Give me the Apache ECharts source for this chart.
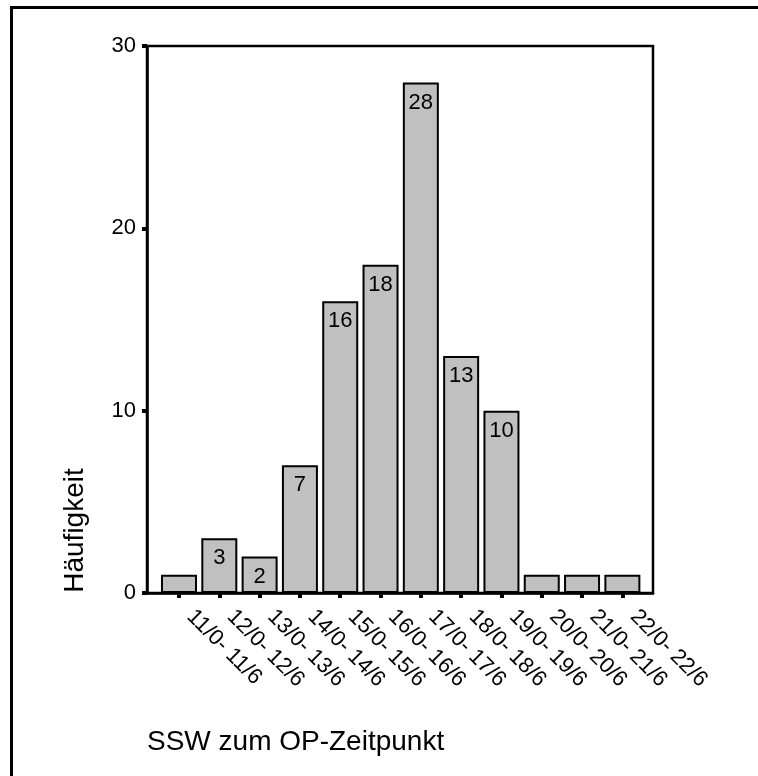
<!DOCTYPE html>
<html><head><meta charset="utf-8">
<script src="https://cdn.jsdelivr.net/npm/echarts@6/dist/echarts.min.js"></script>
<style>
html,body{margin:0;padding:0;background:#fff;overflow:hidden}
#c{width:758px;height:776px;position:absolute;left:0;top:0}
#frame{position:absolute;left:10px;top:6px;width:800px;height:800px;border-left:3px solid #000;border-top:3px solid #000;pointer-events:none}
</style>
</head><body><div id="c"></div><div id="frame"></div>
<script>
const categories = ['11/0- 11/6','12/0- 12/6','13/0- 13/6','14/0- 14/6','15/0- 15/6','16/0- 16/6','17/0- 17/6','18/0- 18/6','19/0- 19/6','20/0- 20/6','21/0- 21/6','22/0- 22/6'];
const counts = [1, 3, 2, 7, 16, 18, 28, 13, 10, 1, 1, 1];
const yMin = 0, yMax = 30, yStep = 10;
const xTitle = 'SSW zum OP-Zeitpunkt';
const yTitle = 'Häufigkeit';

const FONT = "'Liberation Sans', Arial, sans-serif";
const idx = categories.map((_, i) => i);
const chart = echarts.init(document.getElementById('c'), null, {renderer: 'canvas'});
chart.setOption({
  animation: false,
  backgroundColor: 'transparent',
  grid: {left: 147, right: 105, top: 46, bottom: 183, show: true, borderColor: '#000', borderWidth: 2.5, containLabel: false, outerBoundsMode: 'none'},
  xAxis: {
    type: 'value', min: -0.794, max: 11.76,
    name: xTitle, nameLocation: 'start', nameGap: 0,
    nameTextStyle: {fontFamily: FONT, fontSize: 28, color: '#000', align: 'left', verticalAlign: 'top', padding: [135, 0, 0, 0]},
    axisLine: {show: true, onZero: false, lineStyle: {color: '#000', width: 2.5}},
    axisTick: {show: true, customValues: idx, length: 5, lineStyle: {color: '#000', width: 4}},
    axisLabel: {customValues: idx, formatter: v => categories[Math.round(v)], rotate: -45, margin: 9, padding: [0, 0, 0, 16], fontFamily: FONT, fontSize: 22, color: '#000'},
    splitLine: {show: false}
  },
  yAxis: {
    type: 'value', min: yMin, max: yMax, interval: yStep,
    name: yTitle, nameLocation: 'middle', nameGap: 58, nameRotate: 90,
    nameTextStyle: {fontFamily: FONT, fontSize: 28, color: '#000', padding: [0, 422, 0, 0]},
    axisLine: {show: true, onZero: false, lineStyle: {color: '#000', width: 2.5}},
    axisTick: {show: true, length: 5, lineStyle: {color: '#000', width: 4}},
    axisLabel: {margin: 11, fontFamily: FONT, fontSize: 22, color: '#000'},
    splitLine: {show: false}
  },
  series: [{
    type: 'bar',
    data: counts.map((v, i) => [i, v]),
    barWidth: 36,
    itemStyle: {color: '#c0c0c0', borderColor: '#000', borderWidth: 2},
    label: {show: true, position: 'insideTop', distance: 9, fontFamily: FONT, fontSize: 22, color: '#000',
      formatter: p => (p.value[1] > 1 ? String(p.value[1]) : '')}
  }]
});
</script>
</body></html>
